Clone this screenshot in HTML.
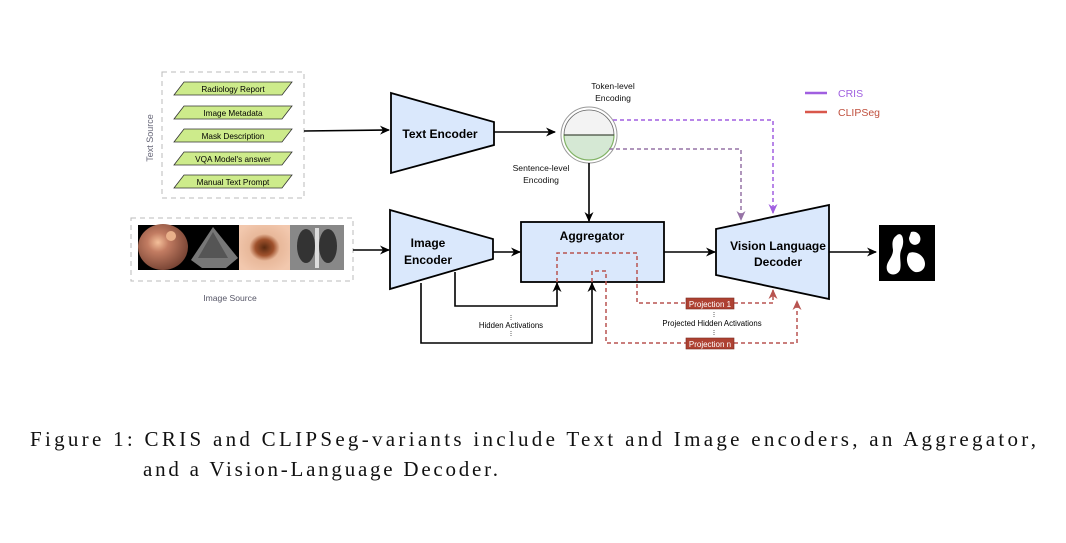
<!DOCTYPE html>
<html><head><meta charset="utf-8"><style>
html,body{margin:0;padding:0;background:#fff;}
svg{display:block;}
.s{font-family:"Liberation Sans",sans-serif;}
.cap{font-family:"Liberation Serif",serif;font-size:21px;fill:#111;}
</style></head><body>
<svg width="1066" height="543" viewBox="0 0 1066 543" xmlns="http://www.w3.org/2000/svg">
<defs>
<marker id="ab" markerWidth="12" markerHeight="12" refX="9" refY="6" orient="auto" markerUnits="userSpaceOnUse"><path d="M0,1.5 L10,6 L0,10.5 L3,6z" fill="#000"/></marker>
<marker id="ap" markerWidth="12" markerHeight="12" refX="9" refY="6" orient="auto" markerUnits="userSpaceOnUse"><path d="M0,1.5 L10,6 L0,10.5 L3,6z" fill="#a05fe0"/></marker>
<marker id="ap2" markerWidth="12" markerHeight="12" refX="9" refY="6" orient="auto" markerUnits="userSpaceOnUse"><path d="M0,1.5 L10,6 L0,10.5 L3,6z" fill="#9673a6"/></marker>
<marker id="ar" markerWidth="12" markerHeight="12" refX="9" refY="6" orient="auto" markerUnits="userSpaceOnUse"><path d="M0,1.5 L10,6 L0,10.5 L3,6z" fill="#b85450"/></marker>
<radialGradient id="g1" cx="0.4" cy="0.4" r="0.7"><stop offset="0" stop-color="#f4c09a"/><stop offset="0.3" stop-color="#c27c62"/><stop offset="1" stop-color="#6b3a2c"/></radialGradient>
<radialGradient id="g3" cx="0.5" cy="0.5" r="0.6"><stop offset="0" stop-color="#5a2a10"/><stop offset="0.3" stop-color="#a0522d"/><stop offset="0.5" stop-color="#e8b89a"/><stop offset="1" stop-color="#f2c8ae"/></radialGradient>
</defs>
<rect x="162" y="72" width="142" height="126" fill="none" stroke="#bbb" stroke-dasharray="5,4"/>
<text class="s" x="153" y="138" font-size="9" fill="#667" transform="rotate(-90 153 138)" text-anchor="middle">Text Source</text>
<g stroke="#333" stroke-width="0.8" fill="#cdeb8b">
<polygon points="184,82 292,82 282,95 174,95"/>
<polygon points="184,106 292,106 282,119 174,119"/>
<polygon points="184,129 292,129 282,142 174,142"/>
<polygon points="184,152 292,152 282,165 174,165"/>
<polygon points="184,175 292,175 282,188 174,188"/>
</g>
<g class="s" font-size="8.2" fill="#000" text-anchor="middle">
<text x="233" y="92">Radiology Report</text>
<text x="233" y="116">Image Metadata</text>
<text x="233" y="139">Mask Description</text>
<text x="233" y="162">VQA Model's answer</text>
<text x="233" y="185">Manual Text Prompt</text>
</g>
<line x1="304" y1="131" x2="389" y2="130" stroke="#000" stroke-width="1.6" marker-end="url(#ab)"/>
<polygon points="391,93 494,122 494,145 391,173" fill="#dae8fc" stroke="#000" stroke-width="1.8"/>
<text class="s" x="440" y="138" font-size="12" font-weight="bold" text-anchor="middle">Text Encoder</text>
<line x1="494" y1="132" x2="555" y2="132" stroke="#000" stroke-width="1.6" marker-end="url(#ab)"/>
<circle cx="589" cy="135" r="28" fill="#fff" stroke="#999" stroke-width="1"/>
<path d="M564,135 A25,25 0 0 1 614,135 Z" fill="#f3f3f3" stroke="#666" stroke-width="0.8"/>
<path d="M564,135 A25,25 0 0 0 614,135 Z" fill="#d5e8d4" stroke="#82b366" stroke-width="1.2"/>
<line x1="564" y1="135" x2="614" y2="135" stroke="#333" stroke-width="0.9"/>
<g class="s" font-size="8.6" fill="#111" text-anchor="middle">
<text x="613" y="89">Token-level</text><text x="613" y="101">Encoding</text>
<text x="541" y="171">Sentence-level</text><text x="541" y="183">Encoding</text>
</g>
<line x1="589" y1="163" x2="589" y2="221" stroke="#000" stroke-width="1.6" marker-end="url(#ab)"/>
<path d="M613,120 H773 V213" fill="none" stroke="#a05fe0" stroke-width="1.5" stroke-dasharray="4,3" marker-end="url(#ap)"/>
<path d="M609,149 H741 V220" fill="none" stroke="#9673a6" stroke-width="1.5" stroke-dasharray="4,3" marker-end="url(#ap2)"/>
<line x1="805" y1="93" x2="827" y2="93" stroke="#a05fe0" stroke-width="2.5"/>
<text class="s" x="838" y="97" font-size="10.5" fill="#a05fe0">CRIS</text>
<line x1="805" y1="112" x2="827" y2="112" stroke="#d9574b" stroke-width="2.5"/>
<text class="s" x="838" y="116" font-size="10.5" fill="#c0503e">CLIPSeg</text>
<rect x="131" y="218" width="222" height="63" fill="none" stroke="#bbb" stroke-dasharray="5,4"/>
<rect x="138" y="225" width="206" height="45" fill="#000"/>
<ellipse cx="163" cy="247" rx="25" ry="23" fill="url(#g1)"/>
<circle cx="171" cy="236" r="5" fill="#e9b08a"/>
<polygon points="213,227 191,260 202,268 226,268 238,258" fill="#777"/>
<polygon points="213,232 198,258 228,258" fill="#555"/>
<rect x="239" y="225" width="51" height="45" fill="url(#g3)"/>
<rect x="290" y="225" width="54" height="45" fill="#888"/>
<ellipse cx="306" cy="246" rx="9" ry="17" fill="#333"/>
<ellipse cx="328" cy="246" rx="9" ry="17" fill="#333"/>
<rect x="315" y="228" width="4" height="40" fill="#ddd"/>
<text class="s" x="230" y="301" font-size="8.6" fill="#556" text-anchor="middle">Image Source</text>
<line x1="353" y1="250" x2="389" y2="250" stroke="#000" stroke-width="1.6" marker-end="url(#ab)"/>
<polygon points="390,210 493,239 493,259 390,289" fill="#dae8fc" stroke="#000" stroke-width="1.8"/>
<text class="s" x="428" y="247" font-size="12" font-weight="bold" text-anchor="middle">Image</text>
<text class="s" x="428" y="264" font-size="12" font-weight="bold" text-anchor="middle">Encoder</text>
<line x1="493" y1="252" x2="520" y2="252" stroke="#000" stroke-width="1.6" marker-end="url(#ab)"/>
<rect x="521" y="222" width="143" height="60" fill="#dae8fc" stroke="#000" stroke-width="1.8"/>
<text class="s" x="592" y="240" font-size="12" font-weight="bold" text-anchor="middle">Aggregator</text>
<path d="M455,272 V306 H557 V283" fill="none" stroke="#000" stroke-width="1.6" marker-end="url(#ab)"/>
<path d="M421,283 V343 H592 V283" fill="none" stroke="#000" stroke-width="1.6" marker-end="url(#ab)"/>
<text class="s" x="511" y="328" font-size="7.8" text-anchor="middle">Hidden Activations</text>
<line x1="511" y1="315" x2="511" y2="320" stroke="#000" stroke-width="0.6" stroke-dasharray="1,1"/>
<line x1="511" y1="331" x2="511" y2="336" stroke="#000" stroke-width="0.6" stroke-dasharray="1,1"/>
<path d="M557,282 V253 H637 V303 H686 M734,303 H773 V290" fill="none" stroke="#b85450" stroke-width="1.5" stroke-dasharray="4,3" marker-end="url(#ar)"/>
<path d="M592,282 V271 H606 V343 H686 M734,343 H797 V301" fill="none" stroke="#b85450" stroke-width="1.5" stroke-dasharray="4,3" marker-end="url(#ar)"/>
<rect x="686" y="298" width="48" height="11" fill="#ae4132" stroke="#7a2a20" stroke-width="0.6"/>
<text class="s" x="710" y="307" font-size="8" fill="#fff" text-anchor="middle">Projection 1</text>
<rect x="686" y="338" width="48" height="11" fill="#ae4132" stroke="#7a2a20" stroke-width="0.6"/>
<text class="s" x="710" y="347" font-size="8" fill="#fff" text-anchor="middle">Projection n</text>
<text class="s" x="712" y="326" font-size="7.8" text-anchor="middle">Projected Hidden Activations</text>
<line x1="714" y1="312" x2="714" y2="318" stroke="#000" stroke-width="0.6" stroke-dasharray="1,1"/>
<line x1="714" y1="330" x2="714" y2="336" stroke="#000" stroke-width="0.6" stroke-dasharray="1,1"/>
<polygon points="716,229 829,205 829,299 716,275" fill="#dae8fc" stroke="#000" stroke-width="1.8"/>
<text class="s" x="778" y="250" font-size="12" font-weight="bold" text-anchor="middle">Vision Language</text>
<text class="s" x="778" y="266" font-size="12" font-weight="bold" text-anchor="middle">Decoder</text>
<line x1="664" y1="252" x2="715" y2="252" stroke="#000" stroke-width="1.6" marker-end="url(#ab)"/>
<line x1="829" y1="252" x2="876" y2="252" stroke="#000" stroke-width="1.6" marker-end="url(#ab)"/>
<rect x="879" y="225" width="56" height="56" fill="#000"/>
<path d="M896,236 C902,230 905,240 902,248 C898,256 902,262 900,270 C897,276 889,276 887,270 C885,262 893,258 893,250 C892,244 892,239 896,236Z" fill="#fff"/>
<path d="M911,232 C918,230 923,238 919,243 C915,247 909,244 909,238 Z" fill="#fff"/>
<path d="M909,253 C916,250 925,256 925,264 C925,271 917,274 913,271 C907,267 905,258 909,253Z" fill="#fff"/>
<text class="cap" x="30" y="446" textLength="1006" lengthAdjust="spacing">Figure 1:  CRIS and CLIPSeg-variants include Text and Image encoders, an Aggregator,</text>
<text class="cap" x="143" y="476" textLength="355" lengthAdjust="spacing">and a Vision-Language Decoder.</text>
</svg>
</body></html>
